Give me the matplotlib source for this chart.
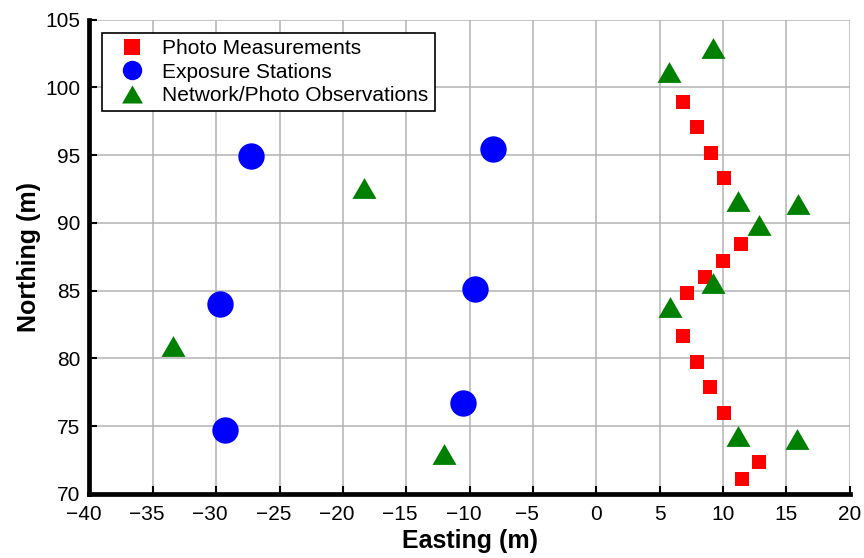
import matplotlib
matplotlib.use("Agg")
import matplotlib.pyplot as plt
from matplotlib.lines import Line2D
from matplotlib.transforms import ScaledTranslation

plt.rcParams['font.family'] = ['Liberation Sans', 'DejaVu Sans']

# Photo Measurements (red squares)
photo_e = [6.87, 7.93, 9.04, 10.09, 11.43, 10.03, 8.61, 7.19, 6.83, 7.93, 9.00, 10.09, 12.87, 11.53]
photo_n = [98.93, 97.04, 95.15, 93.28, 88.43, 87.20, 86.00, 84.79, 81.64, 79.75, 77.86, 75.98, 72.37, 71.07]

# Exposure Stations (blue circles)
expo_e = [-27.22, -8.17, -29.69, -9.57, -10.54, -29.30]
expo_n = [94.93, 95.42, 83.99, 85.12, 76.68, 74.70]

# Network/Photo Observations (green triangles)
net_e = [9.24, 5.75, -18.33, 11.17, 15.90, 12.87, 9.24, 5.80, -33.43, -12.01, 11.17, 15.83]
net_n = [102.87, 101.11, 92.53, 91.59, 91.35, 89.87, 85.57, 83.78, 80.94, 72.91, 74.28, 74.03]

labels = ['Photo Measurements', 'Exposure Stations', 'Network/Photo Observations']
x_ticks = [-40, -35, -30, -25, -20, -15, -10, -5, 0, 5, 10, 15, 20]
y_ticks = [70, 75, 80, 85, 90, 95, 100, 105]

tri = [(-1, -0.866), (1, -0.866), (0, 0.866)]

fig = plt.figure(figsize=(8.64, 5.58), dpi=100)
ax = fig.add_axes([0.1035, 0.1151, 0.8800, 0.8499])

ax.plot(photo_e, photo_n, linestyle='none', marker='s', markersize=10.2,
        color='#ff0000', markeredgewidth=0, zorder=3)
ax.plot(expo_e, expo_n, linestyle='none', marker='o', markersize=19,
        color='#0000ff', markeredgewidth=0, zorder=3)
ax.plot(net_e, net_n, linestyle='none', marker=tri, markersize=17.3,
        color='#008000', markeredgewidth=0, zorder=3)

ax.set_xlim(-40, 20)
ax.set_ylim(70, 105)
ax.set_xticks(x_ticks)
ax.set_yticks(y_ticks)
ax.grid(True, color='#b3b3b3', linewidth=1.1)
ax.set_axisbelow(True)

for s in ['top', 'right']:
    ax.spines[s].set_visible(False)
for s in ['bottom', 'left']:
    ax.spines[s].set_linewidth(3.4)
    ax.spines[s].set_color('black')
    ax.spines[s].set_capstyle('projecting')

ax.tick_params(axis='both', direction='in', length=5.5, width=1.5,
               labelsize=15, colors='black')
ax.tick_params(axis='x', pad=8)
ax.tick_params(axis='y', pad=6.5)

# negative labels: digits centred on the tick, minus sign hanging left
shift = ScaledTranslation(-6 / 100, 0, fig.dpi_scale_trans)
for v, lab in zip(x_ticks, ax.get_xticklabels()):
    if v < 0:
        lab.set_transform(lab.get_transform() + shift)

ax.set_xlabel('Easting (m)', fontsize=18, fontweight='bold', labelpad=4)
ax.set_ylabel('Northing (m)', fontsize=18, fontweight='bold', labelpad=3)

handles = [
    Line2D([], [], linestyle='none', marker='s', markersize=11, color='#ff0000', markeredgewidth=0),
    Line2D([], [], linestyle='none', marker='o', markersize=14, color='#0000ff', markeredgewidth=0),
    Line2D([], [], linestyle='none', marker=tri, markersize=15, color='#008000', markeredgewidth=0),
]
leg = ax.legend(handles, labels, loc='upper left', bbox_to_anchor=(0.0162, 0.972),
                borderaxespad=0, fontsize=15, fancybox=False, framealpha=1,
                edgecolor='black', labelspacing=0.22, handlelength=2.3,
                handletextpad=0.3, borderpad=0.3)
leg.get_frame().set_linewidth(1.2)

fig.savefig('out.png', dpi=100)
